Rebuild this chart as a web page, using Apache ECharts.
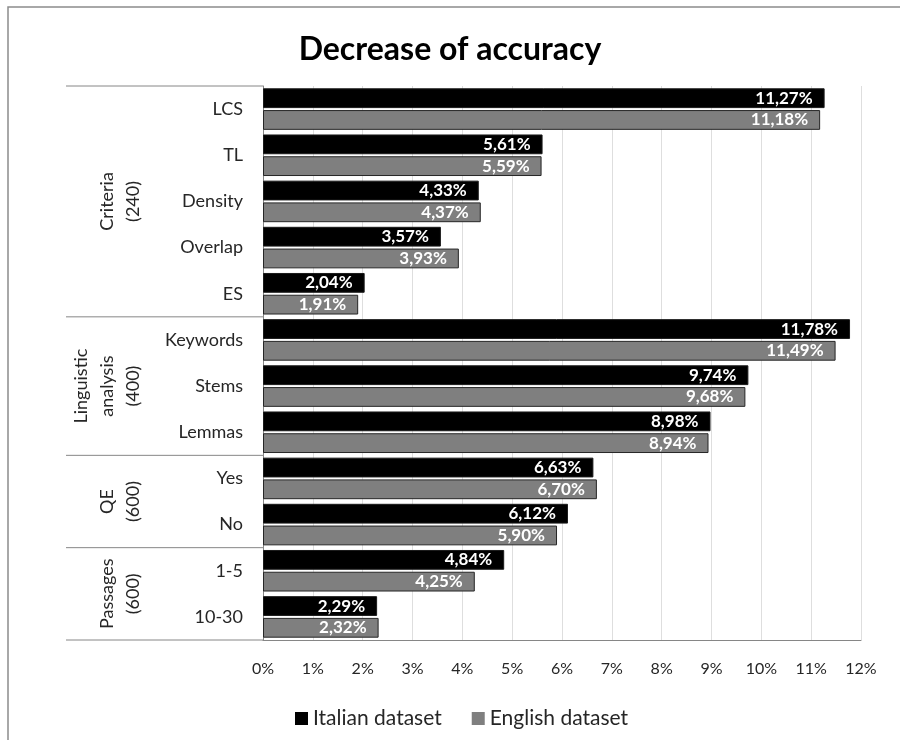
<!DOCTYPE html>
<html lang="en">
<head>
    <meta charset="UTF-8" />
    <title>Decrease of accuracy</title>
    <script src="https://cdn.jsdelivr.net/npm/echarts@6/dist/echarts.min.js"></script>
    <style>
        html, body { margin: 0; padding: 0; background: #fff; }
    </style>
</head>
<body>
    <div id="main" style="width: 900px; height: 740px"></div>
    <script>
        // data
        var categories = ['LCS', 'TL', 'Density', 'Overlap', 'ES', 'Keywords', 'Stems', 'Lemmas', 'Yes', 'No', '1-5', '10-30'];
        var italian = [11.27, 5.61, 4.33, 3.57, 2.04, 11.78, 9.74, 8.98, 6.63, 6.12, 4.84, 2.29];
        var english = [11.18, 5.59, 4.37, 3.93, 1.91, 11.49, 9.68, 8.94, 6.70, 5.90, 4.25, 2.32];
        var groupNames = ['Criteria\n(240)', 'Linguistic\nanalysis\n(400)', 'QE\n(600)', 'Passages\n(600)'];
        var groupSizes = [5, 3, 2, 2];

        var FONT = 'Lato, "Open Sans", sans-serif';
        var lineColor = '#868686';

        function pct(v) {
            return v.toFixed(2).replace('.', ',') + '%';
        }

        var myChart = echarts.init(document.getElementById('main'));

        var barLabel = {
            show: true,
            position: 'insideRight',
            distance: 12,
            color: '#fff',
            fontWeight: 'bold',
            fontSize: 17,
            fontFamily: FONT,
            formatter: function (p) { return pct(p.value); }
        };

        option = {
            backgroundColor: '#fff',
            animation: false,
            title: {
                text: 'Decrease of accuracy',
                left: 'center',
                top: 29,
                textStyle: { fontFamily: FONT, fontSize: 32, fontWeight: 'bold', color: '#000' }
            },
            legend: {
                data: ['Italian dataset', 'English dataset'],
                left: 290,
                top: 703,
                icon: 'rect',
                itemWidth: 13,
                itemHeight: 13,
                itemGap: 30,
                itemStyle: { borderWidth: 0 },
                textStyle: { fontFamily: FONT, fontSize: 21, color: '#262626' }
            },
            grid: {
                left: 263,
                right: 39,
                top: 86,
                bottom: 100,
                containLabel: false,
                outerBoundsMode: 'none'
            },
            xAxis: {
                type: 'value',
                min: 0,
                max: 12,
                interval: 1,
                axisLine: { show: true, lineStyle: { color: lineColor, width: 1 } },
                axisTick: { show: false },
                splitLine: { show: true, lineStyle: { color: '#dedede', width: 1 } },
                axisLabel: {
                    formatter: '{value}%',
                    margin: 21,
                    fontSize: 16,
                    fontFamily: FONT,
                    color: '#262626'
                }
            },
            yAxis: {
                type: 'category',
                inverse: true,
                data: categories,
                axisLine: { show: true, lineStyle: { color: lineColor, width: 1 } },
                axisTick: { show: false },
                axisLabel: {
                    margin: 20,
                    fontSize: 18,
                    fontFamily: FONT,
                    color: '#262626'
                }
            },
            series: [
                {
                    name: 'Italian dataset',
                    type: 'bar',
                    data: italian,
                    barGap: '10%',
                    barCategoryGap: '10%',
                    itemStyle: { color: '#000', borderColor: '#1a1a1a', borderWidth: 1 },
                    label: barLabel
                },
                {
                    name: 'English dataset',
                    type: 'bar',
                    data: english,
                    itemStyle: { color: '#7f7f7f', borderColor: '#262626', borderWidth: 1 },
                    label: barLabel
                }
            ]
        };

        myChart.setOption(option);

        // multi-level axis: group labels and separators placed from the category scale
        var c0 = myChart.convertToPixel({ yAxisIndex: 0 }, categories[0]);
        var c1 = myChart.convertToPixel({ yAxisIndex: 0 }, categories[1]);
        var band = c1 - c0;
        var axisX = myChart.convertToPixel({ xAxisIndex: 0 }, 0);
        var leftEdge = 66;

        var graphics = [
            // outer chart frame
            {
                type: 'rect',
                shape: { x: 8, y: 7, width: 1000, height: 1000 },
                style: { fill: 'none', stroke: '#8c8c8c', lineWidth: 1.5 },
                silent: true
            }
        ];

        var start = 0;
        var topY = c0 - band / 2;
        graphics.push({
            type: 'line',
            shape: { x1: leftEdge, y1: topY, x2: axisX, y2: topY },
            style: { stroke: lineColor, lineWidth: 1 },
            silent: true
        });
        for (var g = 0; g < groupNames.length; g++) {
            var first = myChart.convertToPixel({ yAxisIndex: 0 }, categories[start]);
            var last = myChart.convertToPixel({ yAxisIndex: 0 }, categories[start + groupSizes[g] - 1]);
            var y0 = first - band / 2;
            var y1 = last + band / 2;
            graphics.push({
                type: 'line',
                shape: { x1: leftEdge, y1: y1, x2: axisX, y2: y1 },
                style: { stroke: lineColor, lineWidth: 1 },
                silent: true
            });
            graphics.push({
                type: 'text',
                x: 146,
                y: (y0 + y1) / 2,
                rotation: Math.PI / 2,
                style: {
                    text: groupNames[g],
                    font: '18px ' + FONT,
                    fill: '#262626',
                    align: 'center',
                    verticalAlign: 'bottom',
                    lineHeight: 26
                },
                silent: true
            });
            start += groupSizes[g];
        }

        myChart.setOption({ graphic: graphics });
    </script>
</body>
</html>
